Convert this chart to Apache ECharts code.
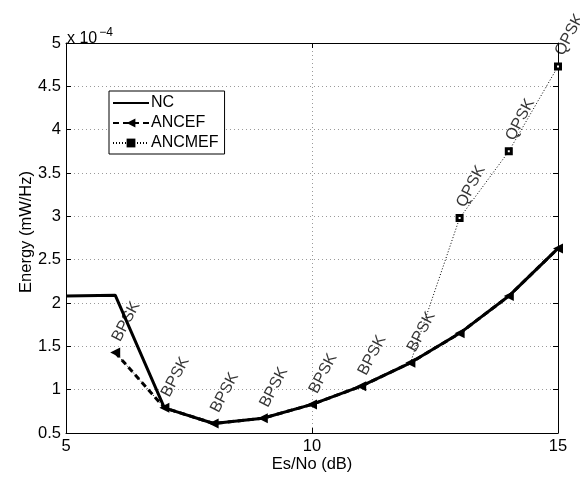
<!DOCTYPE html>
<html><head><meta charset="utf-8">
<script src="https://cdn.jsdelivr.net/npm/echarts@6/dist/echarts.min.js"></script>
<style>html,body{margin:0;padding:0;background:#fff}#c{width:580px;height:480px}</style>
</head><body><div id="c"></div>
<script>
// Es/No (dB)
var esnoNC = [5, 6, 7, 8, 9, 10, 11, 12, 13, 14, 15];
var energyNC = [2.08, 2.09, 0.79, 0.61, 0.67, 0.83, 1.04, 1.31, 1.65, 2.08, 2.63];
var esnoANC = [6, 7, 8, 9, 10, 11, 12, 13, 14, 15];
var energyANCEF = [1.43, 0.79, 0.61, 0.67, 0.83, 1.04, 1.31, 1.65, 2.08, 2.63];
var energyANCMEF = [1.43, 0.79, 0.61, 0.67, 0.83, 1.04, 1.31, 2.98, 3.75, 4.73];
var modulation = ['BPSK', 'BPSK', 'BPSK', 'BPSK', 'BPSK', 'BPSK', 'BPSK', 'QPSK', 'QPSK', 'QPSK'];
var yTicks = [0.5, 5, 0.5]; // min, max, step (units of 1e-4)
var xTicks = [5, 15, 5];

var FONT = 'Liberation Sans, Arial, sans-serif';
var FS = 16.5;
function pairs(xs, ys) { return xs.map(function (x, i) { return [x, ys[i]]; }); }

var ancmefData = pairs(esnoANC, energyANCMEF).map(function (p, i) {
  return { value: p, symbolSize: modulation[i] === 'QPSK' ? 5 : 0 };
});

var gridLine = { show: true, lineStyle: { color: '#9a9a9a', type: [1, 3], width: 1 } };
var tick = { show: true, inside: true, length: 5, lineStyle: { color: '#000' } };
var axLine = { show: true, lineStyle: { color: '#000', width: 1 } };

var chart = echarts.init(document.getElementById('c'));
chart.setOption({
  animation: false,
  textStyle: { fontFamily: FONT, color: '#000' },
  title: {
    text: '{a|x 10}{b|−4}', left: 62, top: 22,
    textStyle: { fontWeight: 'normal', rich: {
      a: { fontSize: 16, fontFamily: FONT, color: '#000', fontWeight: 'normal' },
      b: { fontSize: 12, fontFamily: FONT, color: '#000', fontWeight: 'normal', verticalAlign: 'top', padding: [0, 0, 12, 2] } } }
  },
  grid: { left: 66, right: 22, top: 43, bottom: 47 },
  legend: {
    orient: 'vertical', left: 109, top: 91,
    backgroundColor: '#fff', borderColor: '#000', borderWidth: 1, borderRadius: 0,
    padding: [4, 6, 3, 3], itemGap: 4, itemWidth: 36, itemHeight: 11,
    textStyle: { fontSize: 16, fontFamily: FONT, color: '#000', padding: [0, 0, 0, -3] },
    data: [
      { name: 'NC', itemStyle: { color: 'rgba(0,0,0,0)', borderWidth: 0 } },
      { name: 'ANCEF' },
      { name: 'ANCMEF', itemStyle: { color: '#000', borderWidth: 0 } }
    ]
  },
  xAxis: [{
    type: 'value', min: xTicks[0], max: xTicks[1], interval: xTicks[2],
    name: 'Es/No (dB)', nameLocation: 'middle', nameGap: 23, nameMoveOverlap: false,
    nameTextStyle: { fontSize: FS, fontFamily: FONT, color: '#000' },
    axisLine: axLine, axisTick: tick,
    axisLabel: { fontSize: FS, fontFamily: FONT, color: '#000', margin: 5 },
    splitLine: gridLine
  }, {
    type: 'value', position: 'top', min: xTicks[0], max: xTicks[1], interval: xTicks[2],
    axisLine: axLine, axisTick: tick,
    axisLabel: { show: false }, splitLine: { show: false }
  }],
  yAxis: [{
    type: 'value', min: yTicks[0], max: yTicks[1], interval: yTicks[2],
    name: 'Energy (mW/Hz)', nameLocation: 'middle', nameGap: 31, nameMoveOverlap: false,
    nameTextStyle: { fontSize: FS, fontFamily: FONT, color: '#000', padding: [0, 0, 0, 12] },
    axisLine: axLine, axisTick: tick,
    axisLabel: { fontSize: FS, fontFamily: FONT, color: '#000', margin: 5 },
    splitLine: gridLine
  }, {
    type: 'value', position: 'right', min: yTicks[0], max: yTicks[1], interval: yTicks[2],
    axisLine: axLine, axisTick: tick,
    axisLabel: { show: false }, splitLine: { show: false }
  }],
  series: [{
    name: 'ANCMEF', type: 'line', z: 2,
    data: ancmefData,
    symbol: 'rect', symbolSize: 5,
    itemStyle: { color: '#fff', borderColor: '#000', borderWidth: 3 },
    lineStyle: { color: '#000', width: 1, type: [1, 2] }
  }, {
    name: 'NC', type: 'line', z: 3,
    data: pairs(esnoNC, energyNC),
    symbol: 'circle', showSymbol: false,
    lineStyle: { color: '#000', width: 3 },
    itemStyle: { color: 'rgba(0,0,0,0)' }
  }, {
    name: 'ANCEF', type: 'line', z: 4,
    data: pairs(esnoANC, energyANCEF),
    symbol: 'triangle', symbolSize: 10, symbolRotate: 90,
    itemStyle: { color: '#000' },
    lineStyle: { color: '#000', width: 3, type: [6, 4] }
  }, {
    name: 'modulation', type: 'scatter', z: 6, silent: true,
    data: pairs(esnoANC, energyANCMEF),
    symbol: 'circle', symbolSize: 0,
    itemStyle: { color: 'rgba(0,0,0,0)' },
    label: {
      show: true, position: [1, -12], align: 'left', verticalAlign: 'middle', rotate: 62,
      fontSize: 16, fontFamily: FONT, color: '#000',
      formatter: function (p) { return modulation[p.dataIndex]; }
    }
  }]
});
</script></body></html>
